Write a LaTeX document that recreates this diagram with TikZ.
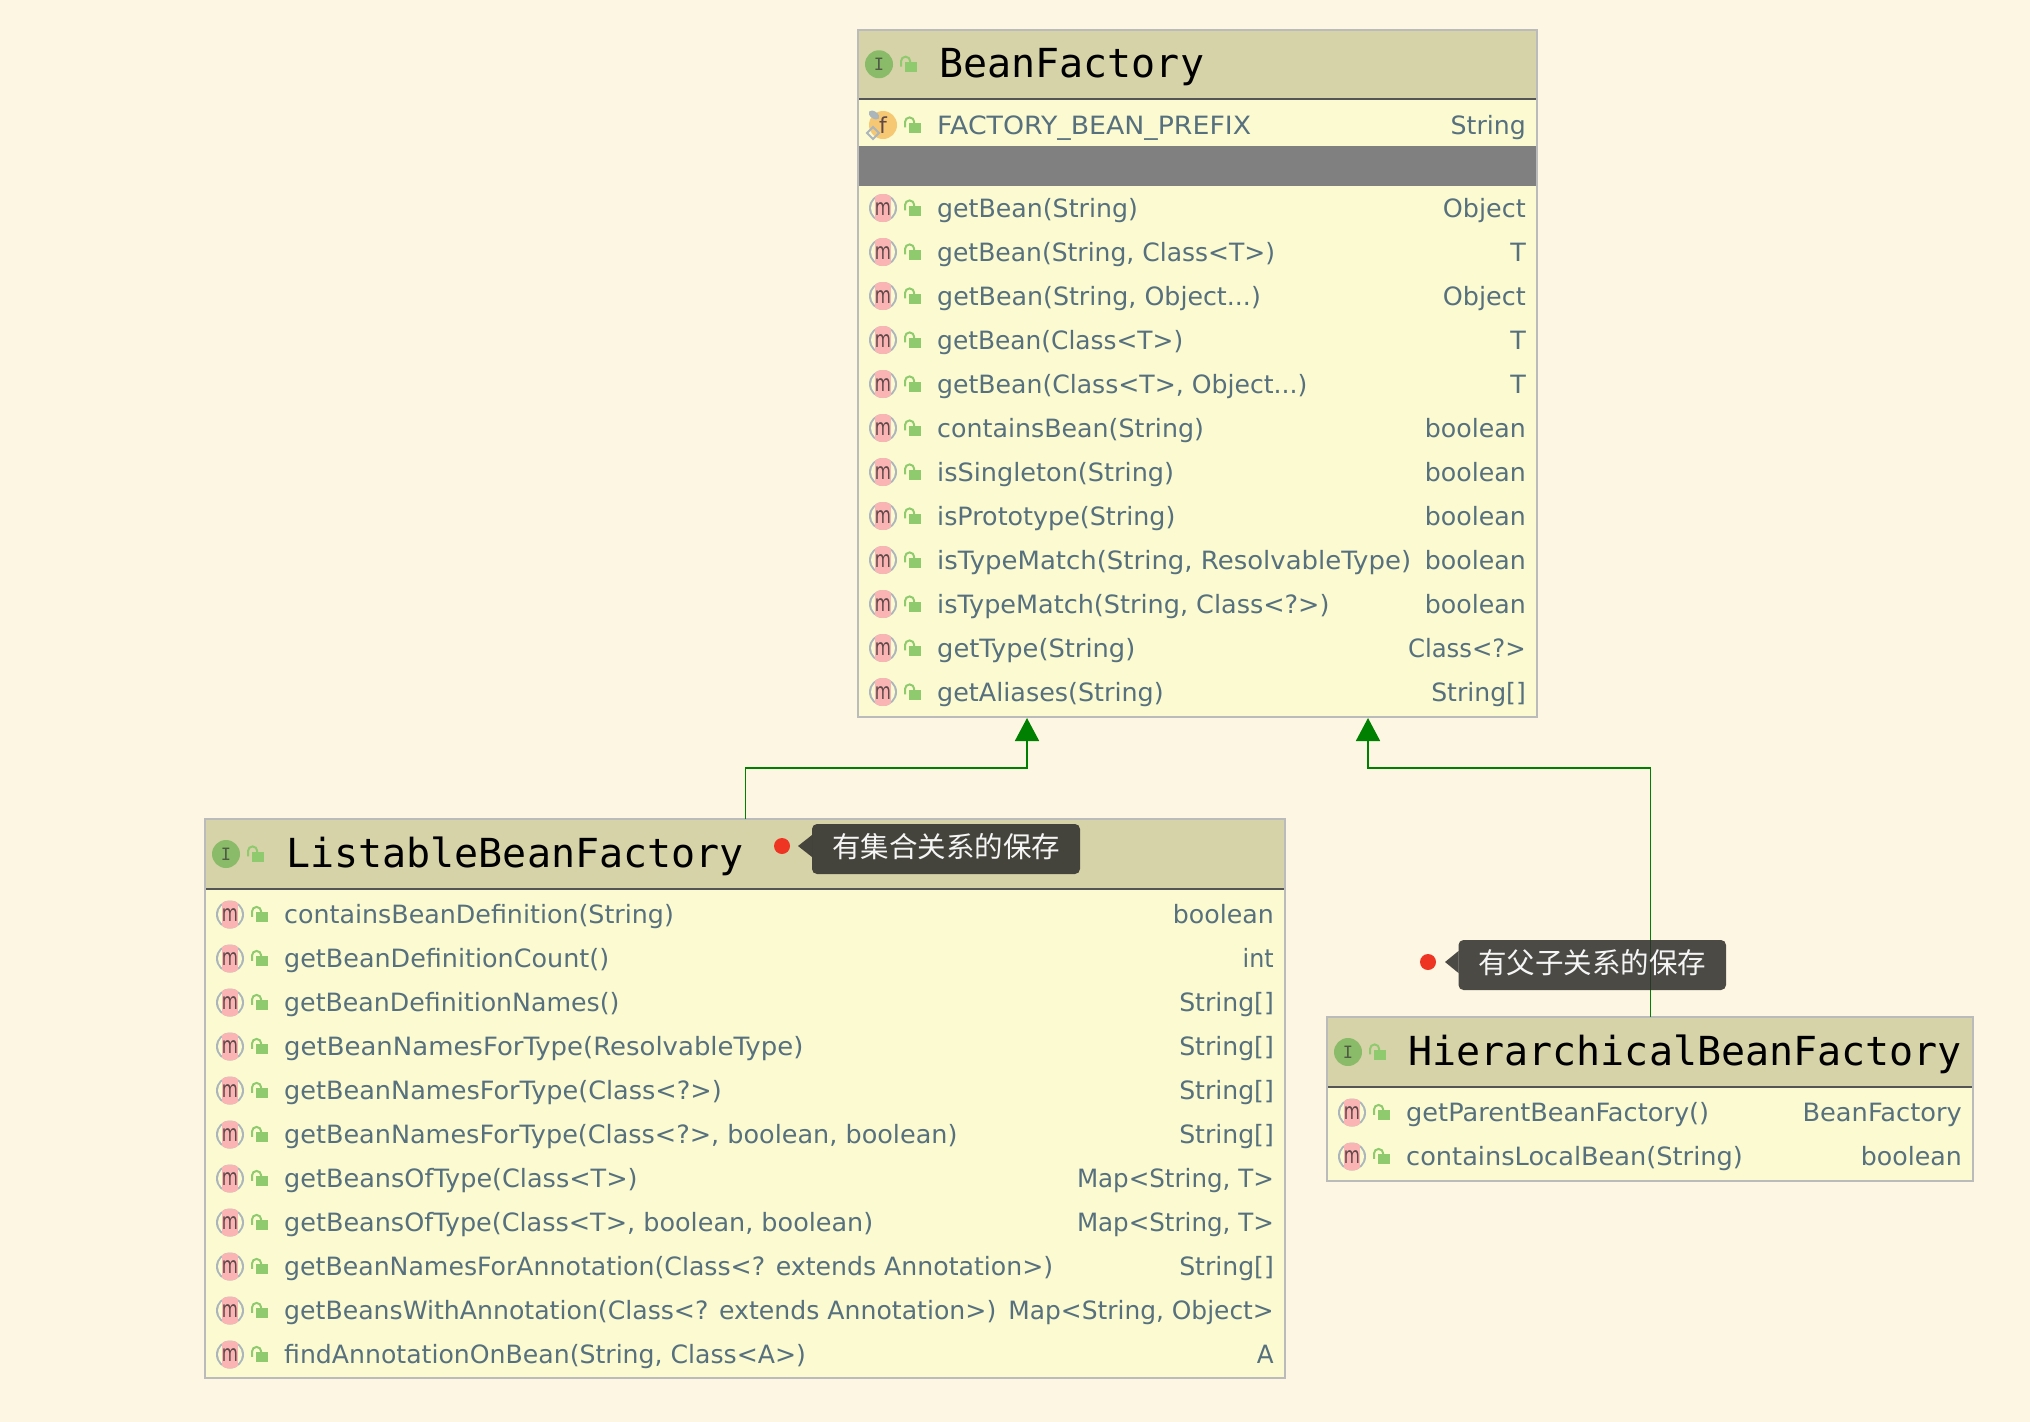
\documentclass[tikz,border=0pt]{standalone}
\usepackage{fontspec}
\usepackage{graphicx}
\setmainfont{DejaVu Sans}
\newfontfamily\rowfont{DejaVu Sans}
\newfontfamily\titlefont{DejaVu Sans Mono}
\newfontfamily\cjkfont{Noto Sans CJK SC}
\usetikzlibrary{arrows.meta,calc,shapes.geometric}
\definecolor{bgc}{HTML}{FDF6E3}
\definecolor{headc}{HTML}{D6D3A9}
\definecolor{bodyc}{HTML}{FCFAD1}
\definecolor{edgec}{HTML}{BBBBBB}
\definecolor{rulec}{HTML}{555555}
\definecolor{textc}{HTML}{56707E}
\definecolor{lockc}{HTML}{8FCB6E}
\definecolor{ifc}{HTML}{8ABB68}
\definecolor{ifd}{HTML}{4F5B45}
\definecolor{pinkc}{HTML}{FBB4B4}
\definecolor{ringc}{HTML}{ABB5BC}
\definecolor{mtxt}{HTML}{5E4848}
\definecolor{orc}{HTML}{F6C873}
\definecolor{greenc}{HTML}{008000}
\definecolor{tipc}{HTML}{2C2C2A}
\definecolor{dotc}{HTML}{EE3524}
\tikzset{
  x=1pt,y=-1pt,
  classbox/.style={draw=edgec,line width=2pt,fill=bodyc,inner sep=0pt,outer sep=0pt,anchor=north west},
  rowtext/.style={inner sep=0pt,anchor=base west,text=textc,font=\rowfont\fontsize{25.2}{30}\selectfont},
  typetext/.style={inner sep=0pt,anchor=base east,text=textc,font=\rowfont\fontsize{25.2}{30}\selectfont},
  titletext/.style={inner sep=0pt,anchor=base west,text=black,font=\titlefont\fontsize{40}{48}\selectfont},
  tiptext/.style={inner sep=0pt,text=white,text opacity=.95,font=\cjkfont\fontsize{28.5}{32}\selectfont},
  inherit/.style={draw=greenc,line width=1.8pt,-{Triangle[length=23pt,width=24pt,fill=greenc]},shorten >=0pt},
  tipbox/.style={fill=tipc,fill opacity=.85,rounded corners=5pt},
  pics/lock/.style={code={
    \fill[lockc] (-4.2,-2.4) rectangle (8.2,7.5);
    \draw[lockc,line width=2pt] (-8,2.3) -- (-8,-3) arc[start angle=180,end angle=360,radius=4.6] -- (1.2,-2);
  }},
  pics/micon/.style={code={
    \fill[ringc] (0,0) circle[radius=14];
    \fill[bodyc] (0,0) circle[radius=12];
    \begin{scope}
      \clip (0,0) circle[radius=14];
      \fill[pinkc] (-8,-14) rectangle (8,14);
    \end{scope}
    \node[inner sep=0pt,text=mtxt,font=\rowfont\fontsize{23}{24}\selectfont] at (0,1) {\scalebox{.72}[1]{m}};
  }},
  pics/iicon/.style={code={
    \fill[ifc] (0,0) circle[radius=14];
    \node[inner sep=0pt,text=ifd,font=\titlefont\fontsize{17}{20}\selectfont] at (0,0) {I};
  }},
  pics/ficon/.style={code={
    \fill[orc] (2,0) circle[radius=14];
    \node[inner sep=0pt,text=mtxt,font=\rowfont\fontsize{22}{24}\selectfont] at (2,0) {f};
    \fill[ringc,rotate around={-35:(-7,-10)}] (-7,-10) ellipse[x radius=6,y radius=3.5];
    \draw[ringc,line width=2pt] (-8,2) -- (-2,8) -- (-8,14) -- (-14,8) -- cycle;
  }},
}
% text set to a given width, in 1568-wide reference units
\newcommand{\fitw}[2]{\resizebox{1.2946\dimexpr #1pt\relax}{\height}{#2}}
% \mrow{prefix}{index}{box left}{box right}{y}{text}{text width}{type}{type width}
\newcommand{\mrow}[9]{%
  \pic at (#3+25,#5) {micon};
  \pic at (#3+55,#5) {lock};
  \node[rowtext] (#1-#2-name) at (#3+79,#5+9) {\fitw{#7}{#6}};
  \node[typetext] (#1-#2-type) at (#4-11,#5+9) {\fitw{#9}{#8}};
}
\newcommand{\classhead}[7]{% name, left, top, right, rule y, title, bottom
  \node[classbox,minimum width=#4pt-#2pt,minimum height=#7pt-#3pt] (#1) at (#2,#3) {};
  \fill[headc] (#2+1,#3+1) rectangle (#4-1,#5);
  \draw[rulec,line width=2pt] (#2+1,#5) -- (#4-1,#5);
  \pic at (#2+21,{(#3+#5)/2}) {iicon};
  \pic at (#2+51,{(#3+#5)/2}) {lock};
  \node[titletext] (#1-title) at (#2+81,{(#3+#5)/2+13.3}) {#6};
}
\begin{document}
\begin{tikzpicture}
\useasboundingbox (0,0) rectangle (2030,1422);
\fill[bgc] (0,0) rectangle (2030,1422);

% BeanFactory
\classhead{bf}{858}{29.5}{1537}{99}{BeanFactory}{716.5}
\pic at (858+23,125) {ficon};
\pic at (858+55,125) {lock};
\node[rowtext] (bf-f-name) at (937,134) {\fitw{242.5}{FACTORY\_BEAN\_PREFIX}};
\node[typetext] (bf-f-type) at (1526,134) {\fitw{58}{String}};
\fill[gray] (859,146) rectangle (1536,186);
\mrow{bf}{1}{858}{1537}{208}{getBean(String)}{155}{Object}{64}
\mrow{bf}{2}{858}{1537}{252}{getBean(String, Class<T>)}{261}{T}{12}
\mrow{bf}{3}{858}{1537}{296}{getBean(String, Object...)}{250}{Object}{64}
\mrow{bf}{4}{858}{1537}{340}{getBean(Class<T>)}{190}{T}{12}
\mrow{bf}{5}{858}{1537}{384}{getBean(Class<T>, Object...)}{286}{T}{12}
\mrow{bf}{6}{858}{1537}{428}{containsBean(String)}{206}{boolean}{78}
\mrow{bf}{7}{858}{1537}{472}{isSingleton(String)}{183}{boolean}{78}
\mrow{bf}{8}{858}{1537}{516}{isPrototype(String)}{184}{boolean}{78}
\mrow{bf}{9}{858}{1537}{560}{isTypeMatch(String, ResolvableType)}{366}{boolean}{78}
\mrow{bf}{10}{858}{1537}{604}{isTypeMatch(String, Class<?>)}{303}{boolean}{78}
\mrow{bf}{11}{858}{1537}{648}{getType(String)}{153}{Class<?>}{91}
\mrow{bf}{12}{858}{1537}{692}{getAliases(String)}{175}{String[]}{73}

% ListableBeanFactory
\classhead{lb}{205}{819}{1285}{889}{ListableBeanFactory}{1378}
\mrow{lb}{1}{205}{1285}{914.5}{containsBeanDefinition(String)}{301}{boolean}{78}
\mrow{lb}{2}{205}{1285}{958.5}{getBeanDefinitionCount()}{251}{int}{24}
\mrow{lb}{3}{205}{1285}{1002.5}{getBeanDefinitionNames()}{259}{String[]}{73}
\mrow{lb}{4}{205}{1285}{1046.5}{getBeanNamesForType(ResolvableType)}{401}{String[]}{73}
\mrow{lb}{5}{205}{1285}{1090.5}{getBeanNamesForType(Class<?>)}{338}{String[]}{73}
\mrow{lb}{6}{205}{1285}{1134.5}{getBeanNamesForType(Class<?>, boolean, boolean)}{520}{String[]}{73}
\mrow{lb}{7}{205}{1285}{1178.5}{getBeansOfType(Class<T>)}{273}{Map<String, T>}{152}
\mrow{lb}{8}{205}{1285}{1222.5}{getBeansOfType(Class<T>, boolean, boolean)}{455}{Map<String, T>}{152}
\mrow{lb}{9}{205}{1285}{1266.5}{getBeanNamesForAnnotation(Class<? extends Annotation>)}{594}{String[]}{73}
\mrow{lb}{10}{205}{1285}{1310.5}{getBeansWithAnnotation(Class<? extends Annotation>)}{550}{Map<String, Object>}{205}
\mrow{lb}{11}{205}{1285}{1354.5}{findAnnotationOnBean(String, Class<A>)}{403}{A}{13}

% HierarchicalBeanFactory
\classhead{hb}{1327}{1017}{1973}{1087}{HierarchicalBeanFactory}{1180.5}
\mrow{hb}{1}{1327}{1973}{1112.5}{getParentBeanFactory()}{234}{BeanFactory}{123}
\mrow{hb}{2}{1327}{1973}{1156.5}{containsLocalBean(String)}{260}{boolean}{78}

% Connectors
\coordinate (lb-out) at (745.5,819);
\coordinate (bf-in1) at (1027,718);
\coordinate (hb-out) at (1650.5,1017);
\coordinate (bf-in2) at (1368,718);
\draw[inherit] (lb-out) -- (745.5,768) -- (1027,768) -- (bf-in1);
\draw[inherit] (hb-out) -- (1650.5,768) -- (1368,768) -- (bf-in2);

% Notes
\fill[dotc] (782,846) circle[radius=8];
\fill[tipbox] (812,824) rectangle (1080,874);
\fill[tipc,fill opacity=.85] (812,835) -- (798,846) -- (812,857) -- cycle;
\node[tiptext] (note1) at (946,847) {有集合关系的保存};
\fill[dotc] (1428,962) circle[radius=8];
\fill[tipbox] (1458.5,940) rectangle (1726,990);
\fill[tipc,fill opacity=.85] (1458.5,951) -- (1445,962) -- (1458.5,973) -- cycle;
\node[tiptext] (note2) at (1592,963) {有父子关系的保存};
\end{tikzpicture}
\end{document}
